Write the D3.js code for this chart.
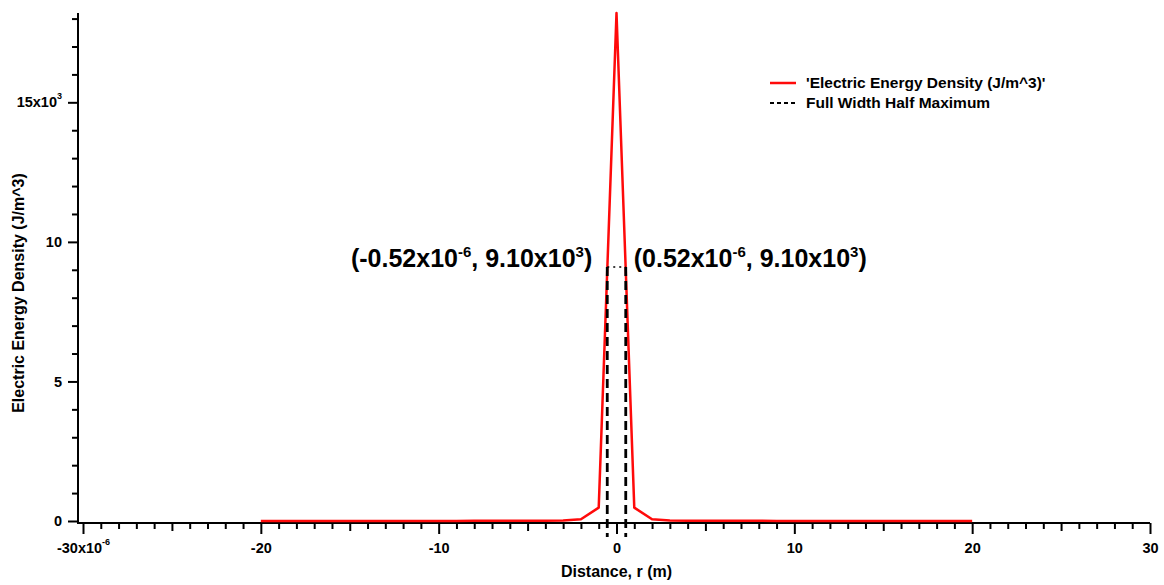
<!DOCTYPE html>
<html>
<head>
<meta charset="utf-8">
<script src="https://cdn.jsdelivr.net/npm/d3@7"></script>
<style>
  body { margin: 0; background: #fff; }
  text { font-family: "Liberation Sans", Arial, sans-serif; font-weight: bold; fill: #000; }
</style>
</head>
<body>
<div id="chart"></div>
<script>
var width = 1164,
    height = 585;

// datos: distancia en micrometros, densidad en 10^3 J/m^3
var distance = [-20, -19, -18, -17, -16, -15, -14, -13, -12, -11, -10, -9, -8, -7, -6, -5, -4, -3, -2, -1, 0,
                1, 2, 3, 4, 5, 6, 7, 8, 9, 10, 11, 12, 13, 14, 15, 16, 17, 18, 19, 20];
var energy = [0.001, 0.001, 0.001, 0.001, 0.002, 0.002, 0.002, 0.002, 0.003, 0.003, 0.004, 0.004, 0.005, 0.006, 0.007, 0.009, 0.012, 0.02, 0.06, 0.48, 18.2,
              0.48, 0.06, 0.02, 0.012, 0.009, 0.007, 0.006, 0.005, 0.004, 0.004, 0.003, 0.003, 0.002, 0.002, 0.002, 0.002, 0.001, 0.001, 0.001, 0.001];

var fwhmX = [-0.52, 0.52];
var fwhmY = 9.10;
var fwhmText = [["(-0.52x10", "-6", ", 9.10x10", "3", ")"], ["(0.52x10", "-6", ", 9.10x10", "3", ")"]];

var xMajor = [-30, -20, -10, 0, 10, 20, 30];
var xLabel = ["-30x10", "-20", "-10", "0", "10", "20", "30"];
var xLabelSup = ["-6", "", "", "", "", "", ""];
var yMajor = [0, 5, 10, 15];
var yLabel = ["0", "5", "10", "15x10"];
var yLabelSup = ["", "", "", "3"];

var legendNames = ["'Electric Energy Density (J/m^3)'", "Full Width Half Maximum"];

var xScale = d3.scaleLinear().domain([-30, 30]).range([83, 1150]);
var yScale = d3.scaleLinear().domain([0, 18.2]).range([521, 13]);

var axisX0 = 78,     // posicion del eje y
    axisY0 = 523;    // posicion del eje x

var svg = d3.select("#chart").append("svg")
    .attr("width", width)
    .attr("height", height);

function tickAxis(axis, vals, size) {
  return axis.tickValues(vals).tickSize(size).tickFormat("");
}

function addSup(sel, sups) {
  sel.selectAll("text").attr("font-size", 14.5).attr("font-family", null)
    .each(function (d, i) {
      if (sups[i]) {
        d3.select(this).append("tspan").attr("font-size", 9).attr("dy", "-0.95em").text(sups[i]);
      }
    });
}

// ---- eje x ----
var xMinor = d3.range(-30, 31, 1).filter(d => d % 5 !== 0);
var xMid = d3.range(-25, 30, 10);

var gx = svg.append("g").attr("transform", "translate(0," + axisY0 + ")");
gx.append("g").call(tickAxis(d3.axisBottom(xScale), xMinor, 6));
gx.append("g").call(tickAxis(d3.axisBottom(xScale), xMid, 8));
var gxMajor = gx.append("g").call(d3.axisBottom(xScale).tickValues(xMajor).tickSize(11).tickPadding(9)
    .tickFormat((d, i) => xLabel[i]));
addSup(gxMajor, xLabelSup);
gx.selectAll(".domain").remove();
gx.selectAll("line").attr("stroke", "#000").attr("stroke-width", 2);
gx.append("line").attr("x1", axisX0).attr("x2", xScale.range()[1])
  .attr("stroke", "#000").attr("stroke-width", 2);

// ---- eje y ----
var yMinor = d3.range(0, 19, 1).filter(d => d % 5 !== 0);
var gy = svg.append("g").attr("transform", "translate(" + axisX0 + ",0)");
gy.append("g").call(tickAxis(d3.axisLeft(yScale), yMinor, 6));
var gyMajor = gy.append("g").call(d3.axisLeft(yScale).tickValues(yMajor).tickSize(10).tickPadding(6)
    .tickFormat((d, i) => yLabel[i]));
addSup(gyMajor, yLabelSup);
gy.selectAll(".domain").remove();
gy.selectAll("line").attr("stroke", "#000").attr("stroke-width", 2);
gy.append("line").attr("y1", yScale.range()[1]).attr("y2", axisY0 + 1)
  .attr("stroke", "#000").attr("stroke-width", 2);

// titulos de ejes
svg.append("text")
  .attr("x", xScale(0)).attr("y", 577)
  .attr("text-anchor", "middle").attr("font-size", 16)
  .text("Distance, r (m)");

svg.append("text")
  .attr("transform", "translate(24," + 293 + ") rotate(-90)")
  .attr("text-anchor", "middle").attr("font-size", 16)
  .text("Electric Energy Density (J/m^3)");

// ---- curva ----
var line = d3.line()
  .x((d, i) => xScale(distance[i]))
  .y(d => yScale(d));

svg.append("path")
  .datum(energy)
  .attr("d", line)
  .attr("fill", "none")
  .attr("stroke", "#ff0a0a")
  .attr("stroke-width", 2.5)
  .attr("stroke-linejoin", "round");

// ---- FWHM ----
svg.selectAll(".fwhm")
  .data(fwhmX)
  .enter().append("line")
  .attr("class", "fwhm")
  .attr("x1", d => xScale(d)).attr("x2", d => xScale(d))
  .attr("y1", yScale(fwhmY)).attr("y2", axisY0 + 14)
  .attr("stroke", "#000")
  .attr("stroke-width", 2.8)
  .attr("stroke-dasharray", "9,5");

svg.append("line")
  .attr("x1", xScale(fwhmX[0])).attr("x2", xScale(fwhmX[1]))
  .attr("y1", yScale(fwhmY)).attr("y2", yScale(fwhmY))
  .attr("stroke", "#000")
  .attr("stroke-width", 1.5)
  .attr("stroke-dasharray", "2,4");

// etiquetas de los puntos FWHM
svg.selectAll(".fwhmLabel")
  .data(fwhmX)
  .enter().append("text")
  .attr("class", "fwhmLabel")
  .attr("x", d => xScale(d) + (d < 0 ? -15 : 8))
  .attr("y", yScale(fwhmY))
  .attr("text-anchor", d => d < 0 ? "end" : "start")
  .attr("font-size", 25)
  .each(function (d, i) {
    var t = d3.select(this), parts = fwhmText[i];
    t.append("tspan").text(parts[0]);
    t.append("tspan").attr("font-size", 15).attr("dy", -10).text(parts[1]);
    t.append("tspan").attr("dy", 10).text(parts[2]);
    t.append("tspan").attr("font-size", 15).attr("dy", -10).text(parts[3]);
    t.append("tspan").attr("dy", 10).text(parts[4]);
  });

// ---- leyenda ----
var legend = svg.append("g").attr("transform", "translate(770,83)");
var rows = legend.selectAll("g")
  .data(legendNames)
  .enter().append("g")
  .attr("transform", (d, i) => "translate(0," + (i * 20) + ")");

rows.append("line")
  .attr("x1", 0).attr("x2", 26)
  .attr("stroke", (d, i) => i === 0 ? "#ff0a0a" : "#000")
  .attr("stroke-width", (d, i) => i === 0 ? 2.5 : 2)
  .attr("stroke-dasharray", (d, i) => i === 0 ? null : "4,3");

rows.append("text")
  .attr("x", 36).attr("y", 5)
  .attr("font-size", 15.5)
  .text(d => d);
</script>
</body>
</html>
